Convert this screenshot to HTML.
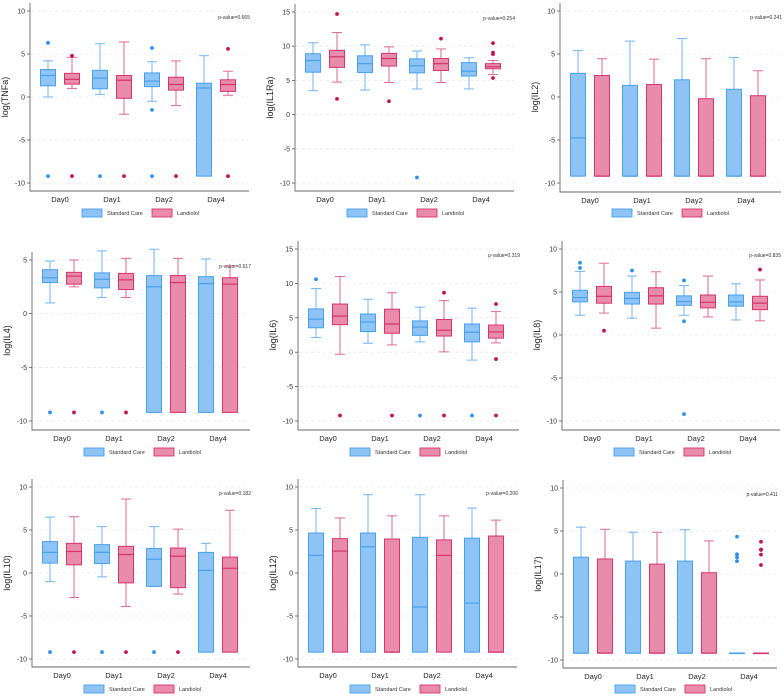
<!DOCTYPE html>
<html><head><meta charset="utf-8">
<style>
html,body{margin:0;padding:0;background:#fff;}
svg{display:block;font-family:"Liberation Sans",sans-serif;}
</style></head>
<body>
<svg id="chart" width="784" height="697" viewBox="0 0 784 697" xmlns="http://www.w3.org/2000/svg"></svg>
<script>
const categories = ["Day0","Day1","Day2","Day4"];
const seriesNames = ["Standard Care","Landiolol"];
const panelTitles = ["log(TNFa)","log(IL1Ra)","log(IL2)","log(IL4)","log(IL6)","log(IL8)","log(IL10)","log(IL12)","log(IL17)"];
const pValues = ["p-value=0.665","p-value=0.254","p-value=0.241","p-value=0.617","p-value=0.319","p-value=0.835","p-value=0.182","p-value=0.206","p-value=0.411"];
const ticksA = [-10,-5,0,5,10];
const ticksB = [-10,-5,0,5,10,15];
const ticksC = [-10,-5,0,5];
// box stats: [lowWhisker, q1, median, q3, highWhisker]
const tnfaStd = [[0,1.3,2.5,3.2,4.2],[0.3,0.95,2.2,3.1,6.2],[-0.5,1.2,1.85,2.8,4.1],[-9.2,-9.2,1.05,1.6,4.8]];
const tnfaLan = [[1.0,1.5,2.05,2.75,4.6],[-2.0,-0.15,1.95,2.5,6.4],[-1.0,0.8,1.45,2.3,4.2],[0.2,0.65,1.45,2.0,3.0]];
const tnfaStdOut = [[6.3,-9.2],[-9.2],[5.7,-1.5,-9.2],[]];
const tnfaLanOut = [[4.8,-9.2],[-9.2],[-9.2],[5.6,-9.2]];
const il1raStd = [[3.5,6.2,7.9,8.9,10.5],[3.6,6.15,7.45,8.6,10.2],[3.75,6.1,7.15,8.15,9.3],[3.75,5.65,6.35,7.6,8.3]];
const il1raLan = [[4.75,6.9,8.45,9.4,12.0],[4.7,7.1,8.2,8.95,9.9],[4.7,6.45,7.45,8.2,9.6],[5.85,6.7,7.0,7.45,7.9]];
const il1raStdOut = [[],[],[-9.2],[]];
const il1raLanOut = [[14.7,2.3],[1.95],[11.1],[10.45,9.05,8.85,5.35]];
const il2Std = [[-9.2,-9.2,-4.75,2.75,5.4],[-9.2,-9.2,-9.2,1.35,6.5],[-9.2,-9.2,-9.2,2.0,6.8],[-9.2,-9.2,-9.2,0.9,4.6]];
const il2Lan = [[-9.2,-9.2,-9.2,2.5,4.45],[-9.2,-9.2,-9.2,1.45,4.4],[-9.2,-9.2,-9.2,-0.2,4.45],[-9.2,-9.2,-9.2,0.15,3.05]];
const il2StdOut = [[],[],[],[]];
const il2LanOut = [[],[],[],[]];
const il4Std = [[1.0,2.9,3.35,4.1,4.9],[1.5,2.4,3.2,3.8,5.85],[-9.2,-9.2,2.5,3.55,6.0],[-9.2,-9.2,2.8,3.45,5.1]];
const il4Lan = [[2.5,2.75,3.5,3.85,5.0],[1.5,2.25,3.15,3.75,5.15],[-9.2,-9.2,2.9,3.55,5.15],[-9.2,-9.2,2.75,3.35,4.45]];
const il4StdOut = [[-9.2],[-9.2],[],[]];
const il4LanOut = [[-9.2],[-9.2],[],[]];
const il6Std = [[2.15,3.55,4.8,6.3,9.25],[1.3,3.0,4.4,5.55,7.7],[1.5,2.45,3.65,4.55,6.55],[-1.15,1.5,2.9,4.1,6.4]];
const il6Lan = [[-0.3,4.0,5.25,7.0,11.0],[1.05,2.75,4.1,6.25,8.65],[0.05,2.35,3.2,4.75,7.5],[1.35,2.05,2.95,3.95,5.9]];
const il6StdOut = [[10.6],[],[-9.2],[-9.2]];
const il6LanOut = [[-9.2],[-9.2],[8.65,-9.2],[7.0,-1.0,-9.2]];
const il8Std = [[2.3,3.85,4.35,5.2,7.4],[1.95,3.6,4.25,4.95,6.85],[2.3,3.45,3.9,4.55,5.75],[1.75,3.35,3.85,4.65,5.95]];
const il8Lan = [[2.55,3.7,4.5,5.65,8.35],[0.8,3.6,4.55,5.5,7.35],[2.1,3.15,3.8,4.65,6.85],[1.65,2.95,3.7,4.5,6.4]];
const il8StdOut = [[8.4,7.8],[7.5],[6.35,1.6,-9.2],[]];
const il8LanOut = [[0.5],[],[],[7.6]];
const il10Std = [[-1.0,1.15,2.4,3.65,6.5],[-0.45,1.1,2.4,3.3,5.4],[-1.55,-1.55,1.6,2.85,5.4],[-9.2,-9.2,0.3,2.4,3.45]];
const il10Lan = [[-2.85,0.95,2.5,3.45,6.55],[-3.9,-1.15,2.15,3.1,8.6],[-2.45,-1.7,1.95,2.9,5.1],[-9.2,-9.2,0.55,1.85,7.3]];
const il10StdOut = [[-9.2],[-9.2],[-9.2],[]];
const il10LanOut = [[-9.2],[-9.2],[-9.2],[]];
const il12Std = [[-9.2,-9.2,2.05,4.65,7.5],[-9.2,-9.2,3.05,4.65,9.1],[-9.2,-9.2,-3.95,4.15,9.1],[-9.2,-9.2,-3.5,4.05,7.55]];
const il12Lan = [[-9.2,-9.2,2.55,4.0,6.4],[-9.2,-9.2,-9.2,3.95,6.65],[-9.2,-9.2,2.05,3.85,6.65],[-9.2,-9.2,-9.2,4.3,6.15]];
const il12StdOut = [[],[],[],[]];
const il12LanOut = [[],[],[],[]];
const il17Std = [[-9.2,-9.2,-9.2,1.95,5.45],[-9.2,-9.2,-9.2,1.5,4.85],[-9.2,-9.2,-9.2,1.5,5.15],[-9.2,-9.2,-9.2,-9.2,-9.2]];
const il17Lan = [[-9.2,-9.2,-9.2,1.75,5.2],[-9.2,-9.2,-9.2,1.15,4.85],[-9.2,-9.2,-9.2,0.15,3.85],[-9.2,-9.2,-9.2,-9.2,-9.2]];
const il17StdOut = [[],[],[],[4.35,2.3,1.95,1.5]];
const il17LanOut = [[],[],[],[3.75,2.85,2.8,2.25,1.05]];

const panels = [
 {name:"tnfa",std:tnfaStd,lan:tnfaLan,so:tnfaStdOut,lo:tnfaLanOut,ticks:ticksA,x0:30,x1:249,yMaxPx:11,yMinPx:183,bottom:191,leg:213},
 {name:"il1ra",std:il1raStd,lan:il1raLan,so:il1raStdOut,lo:il1raLanOut,ticks:ticksB,x0:295,x1:514,yMaxPx:12,yMinPx:183,bottom:191,leg:213},
 {name:"il2",std:il2Std,lan:il2Lan,so:il2StdOut,lo:il2LanOut,ticks:ticksA,x0:560,x1:781,yMaxPx:11,yMinPx:183,bottom:192,leg:213},
 {name:"il4",std:il4Std,lan:il4Lan,so:il4StdOut,lo:il4LanOut,ticks:ticksC,x0:32,x1:250,yMaxPx:260,yMinPx:421,bottom:430,leg:452},
 {name:"il6",std:il6Std,lan:il6Lan,so:il6StdOut,lo:il6LanOut,ticks:ticksB,x0:298,x1:519,yMaxPx:249,yMinPx:421,bottom:430,leg:452},
 {name:"il8",std:il8Std,lan:il8Lan,so:il8StdOut,lo:il8LanOut,ticks:ticksA,x0:562,x1:780,yMaxPx:249,yMinPx:421,bottom:430,leg:452},
 {name:"il10",std:il10Std,lan:il10Lan,so:il10StdOut,lo:il10LanOut,ticks:ticksA,x0:32,x1:250,yMaxPx:487,yMinPx:659,bottom:667,leg:689},
 {name:"il12",std:il12Std,lan:il12Lan,so:il12StdOut,lo:il12LanOut,ticks:ticksA,x0:298,x1:517,yMaxPx:487,yMinPx:659,bottom:667,leg:689},
 {name:"il17",std:il17Std,lan:il17Lan,so:il17StdOut,lo:il17LanOut,ticks:ticksA,x0:563,x1:777,yMaxPx:488,yMinPx:660,bottom:668,leg:689}
];
const NS="http://www.w3.org/2000/svg";
const svg=document.getElementById('chart');
function mk(tag,attrs,parent){const e=document.createElementNS(NS,tag);for(const k in attrs)e.setAttribute(k,attrs[k]);(parent||svg).appendChild(e);return e;}
const styles=[{fill:"#8ec3f6",stroke:"#4a9fe9",whisk:"#72b4ef",dot:"#2f8ff0"},{fill:"#e98bab",stroke:"#d5346b",whisk:"#da6a93",dot:"#c8124f"}];

panels.forEach((p,pi)=>{
  const g=mk('g',{});
  
  
  const tmin=p.ticks[0], tmax=p.ticks[p.ticks.length-1];
  const y=v=>p.yMinPx+(v-tmin)*(p.yMaxPx-p.yMinPx)/(tmax-tmin);
  const xc=i=>p.x0+30+i*52;
  // grid + ticks
  p.ticks.forEach(t=>{
    const gl=mk('line',{x1:p.x0+1,x2:p.x1,y1:y(t),y2:y(t),stroke:"#e6e6e6","stroke-width":0.8,"stroke-dasharray":"3,3"},g);
    
    
    const tk=mk('line',{x1:p.x0-3,x2:p.x0,y1:y(t),y2:y(t),stroke:"#555","stroke-width":0.8},g);
    
    
    const tl=mk('text',{x:p.x0-5,y:y(t)+2.5,"text-anchor":"end","font-size":7,fill:"#333"},g);
    
    
    tl.textContent=t;
  });
  const ax=mk('path',{d:`M${p.x0},${p.yMaxPx-8}V${p.bottom}H${p.x1}`,fill:"none",stroke:"#666","stroke-width":0.9},g);
  
  
  const yt=mk('text',{transform:`translate(${p.x0-22},${(p.yMaxPx+p.yMinPx)/2}) rotate(-90)`,"text-anchor":"middle","font-size":9,fill:"#222"},g);
  
  
  yt.textContent=panelTitles[pi];
  const pv=mk('text',{x:p.x1+1,y:p.yMaxPx+8,"text-anchor":"end","font-size":5,fill:"#333"},g);
  
  
  pv.textContent=pValues[pi];
  categories.forEach((c,i)=>{
    const xl=mk('text',{x:xc(i),y:p.bottom+11,"text-anchor":"middle","font-size":7.5,fill:"#222"},g);
    
    
    xl.textContent=c;
    [p.std,p.lan].forEach((ser,si)=>{
      const st=styles[si], b=ser[i], cx=xc(i)+(si===0?-12:12), w=15;
      const bg=mk('g',{},g);
      
      
      mk('line',{x1:cx,x2:cx,y1:y(b[3]),y2:y(b[4]),stroke:st.whisk,"stroke-width":1},bg);
      mk('line',{x1:cx-5,x2:cx+5,y1:y(b[4]),y2:y(b[4]),stroke:st.whisk,"stroke-width":1},bg);
      mk('line',{x1:cx,x2:cx,y1:y(b[0]),y2:y(b[1]),stroke:st.whisk,"stroke-width":1},bg);
      mk('line',{x1:cx-5,x2:cx+5,y1:y(b[0]),y2:y(b[0]),stroke:st.whisk,"stroke-width":1},bg);
      mk('rect',{x:cx-w/2,y:y(b[3]),width:w,height:Math.max(0.5,y(b[1])-y(b[3])),fill:st.fill,stroke:st.stroke,"stroke-width":1},bg);
      mk('line',{x1:cx-w/2,x2:cx+w/2,y1:y(b[2]),y2:y(b[2]),stroke:st.stroke,"stroke-width":1.2},bg);
      const outs=(si===0?p.so:p.lo)[i];
      outs.forEach(o=>{
        const d=mk('circle',{cx:cx,cy:y(o),r:1.9,fill:st.dot},g);
        
        
      });
    });
  });
  // legend
  const lg=mk('g',{},g);
  
  
  seriesNames.forEach((s,si)=>{
    const lx=p.x0+52+si*70;
    const le=mk('g',{},lg);
    
    
    mk('rect',{x:lx,y:p.leg-4,width:20,height:8,fill:styles[si].fill,stroke:styles[si].stroke,"stroke-width":0.9},le);
    const t=mk('text',{x:lx+25,y:p.leg+2,"font-size":5.5,fill:"#333"},le);
    t.textContent=s;
  });
});
</script>
</body></html>
